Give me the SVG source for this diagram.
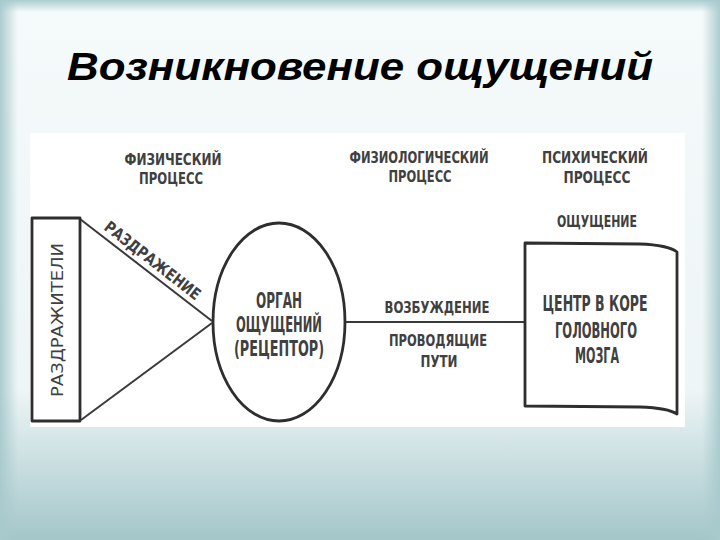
<svg xmlns="http://www.w3.org/2000/svg" width="720" height="540" viewBox="0 0 720 540">
  <defs>
    <linearGradient id="bg" x1="0" y1="0" x2="0" y2="1">
      <stop offset="0" stop-color="#f5fafb"/>
      <stop offset="0.72" stop-color="#eef5f6"/>
      <stop offset="0.8" stop-color="#d9e8ea"/>
      <stop offset="1" stop-color="#a4c6c9"/>
    </linearGradient>
    <linearGradient id="edgeL" x1="0" y1="0" x2="1" y2="0">
      <stop offset="0" stop-color="#a8cacd" stop-opacity="0.95"/>
      <stop offset="1" stop-color="#a8cacd" stop-opacity="0"/>
    </linearGradient>
    <linearGradient id="edgeR" x1="1" y1="0" x2="0" y2="0">
      <stop offset="0" stop-color="#a8cacd" stop-opacity="0.95"/>
      <stop offset="1" stop-color="#a8cacd" stop-opacity="0"/>
    </linearGradient>
    <linearGradient id="edgeT" x1="0" y1="0" x2="0" y2="1">
      <stop offset="0" stop-color="#a8cacd" stop-opacity="0.95"/>
      <stop offset="1" stop-color="#a8cacd" stop-opacity="0"/>
    </linearGradient>
    <style>
      .title { font-family: "Liberation Sans", Arial, sans-serif; font-weight: bold; font-style: italic; font-size: 39px; fill: #000; }
      .lbl { font-family: "Liberation Sans Narrow", "DejaVu Sans Condensed", "Liberation Sans", sans-serif; font-weight: bold; fill: #404040; text-anchor: middle; }
      .s { font-size: 16px; }
      .m { font-size: 21px; }
      .ln { fill: none; stroke: #2e2e2e; stroke-width: 2.8; stroke-linejoin: round; }
      .thin { fill: none; stroke: #3a3a3a; stroke-width: 2; }
    </style>
  </defs>

  <!-- slide background -->
  <rect x="0" y="0" width="720" height="540" fill="url(#bg)"/>
  <rect x="0" y="0" width="18" height="540" fill="url(#edgeL)"/>
  <rect x="702" y="0" width="18" height="540" fill="url(#edgeR)"/>
  <rect x="0" y="0" width="720" height="12" fill="url(#edgeT)"/>

  <text class="title" x="67" y="80" textLength="586" lengthAdjust="spacingAndGlyphs">Возникновение ощущений</text>

  <!-- picture area -->
  <rect x="30" y="133" width="655" height="294" fill="#ffffff"/>

  <!-- process labels -->
  <g id="labels">
    <text class="lbl s" x="173" y="165" textLength="97" lengthAdjust="spacingAndGlyphs">ФИЗИЧЕСКИЙ</text>
    <text class="lbl s" x="171" y="184" textLength="64" lengthAdjust="spacingAndGlyphs">ПРОЦЕСС</text>
    <text class="lbl s" x="419" y="163" textLength="139" lengthAdjust="spacingAndGlyphs">ФИЗИОЛОГИЧЕСКИЙ</text>
    <text class="lbl s" x="420" y="182" textLength="63" lengthAdjust="spacingAndGlyphs">ПРОЦЕСС</text>
    <text class="lbl s" x="595" y="163" textLength="106" lengthAdjust="spacingAndGlyphs">ПСИХИЧЕСКИЙ</text>
    <text class="lbl s" x="597" y="183" textLength="67" lengthAdjust="spacingAndGlyphs">ПРОЦЕСС</text>
    <text class="lbl s" x="597" y="227" textLength="80" lengthAdjust="spacingAndGlyphs">ОЩУЩЕНИЕ</text>
    <text class="lbl s" x="437" y="313" textLength="105" lengthAdjust="spacingAndGlyphs">ВОЗБУЖДЕНИЕ</text>
    <text class="lbl s" x="438" y="346" textLength="98" lengthAdjust="spacingAndGlyphs">ПРОВОДЯЩИЕ</text>
    <text class="lbl s" x="439" y="367" textLength="37" lengthAdjust="spacingAndGlyphs">ПУТИ</text>
    <text class="lbl s" transform="translate(103,229) rotate(37.8)" style="text-anchor:start" textLength="117" lengthAdjust="spacingAndGlyphs">РАЗДРАЖЕНИЕ</text>
  </g>

  <!-- connectors -->
  <g id="connectors">
    <line class="thin" x1="80" y1="219" x2="212" y2="321"/>
    <line class="thin" x1="81" y1="420" x2="212" y2="323"/>
    <line class="thin" x1="345" y1="322" x2="525" y2="322"/>
  </g>

  <!-- stimuli -->
  <g id="stimuli">
    <rect class="ln" x="32" y="218" width="48" height="203"/>
    <text class="lbl s" transform="translate(63,320) rotate(-90)" textLength="154" lengthAdjust="spacingAndGlyphs" style="font-weight:normal">РАЗДРАЖИТЕЛИ</text>
  </g>

  <!-- receptor -->
  <g id="receptor">
    <ellipse class="ln" cx="279" cy="322" rx="66" ry="99"/>
    <text class="lbl m" x="279" y="308" textLength="46" lengthAdjust="spacingAndGlyphs">ОРГАН</text>
    <text class="lbl m" x="279" y="332" textLength="86" lengthAdjust="spacingAndGlyphs">ОЩУЩЕНИЙ</text>
    <text class="lbl m" x="279" y="356" textLength="90" lengthAdjust="spacingAndGlyphs">(РЕЦЕПТОР)</text>
  </g>

  <!-- cortex centre -->
  <g id="cortex">
    <path class="ln" d="M525,243 L640,244 Q668,245 677,252 L677,414 Q668,408 640,407 L525,406 Z"/>
    <text class="lbl m" x="595" y="311" textLength="105" lengthAdjust="spacingAndGlyphs">ЦЕНТР В КОРЕ</text>
    <text class="lbl m" x="596" y="338" textLength="82" lengthAdjust="spacingAndGlyphs">ГОЛОВНОГО</text>
    <text class="lbl m" x="597" y="363" textLength="44" lengthAdjust="spacingAndGlyphs">МОЗГА</text>
  </g>
</svg>
